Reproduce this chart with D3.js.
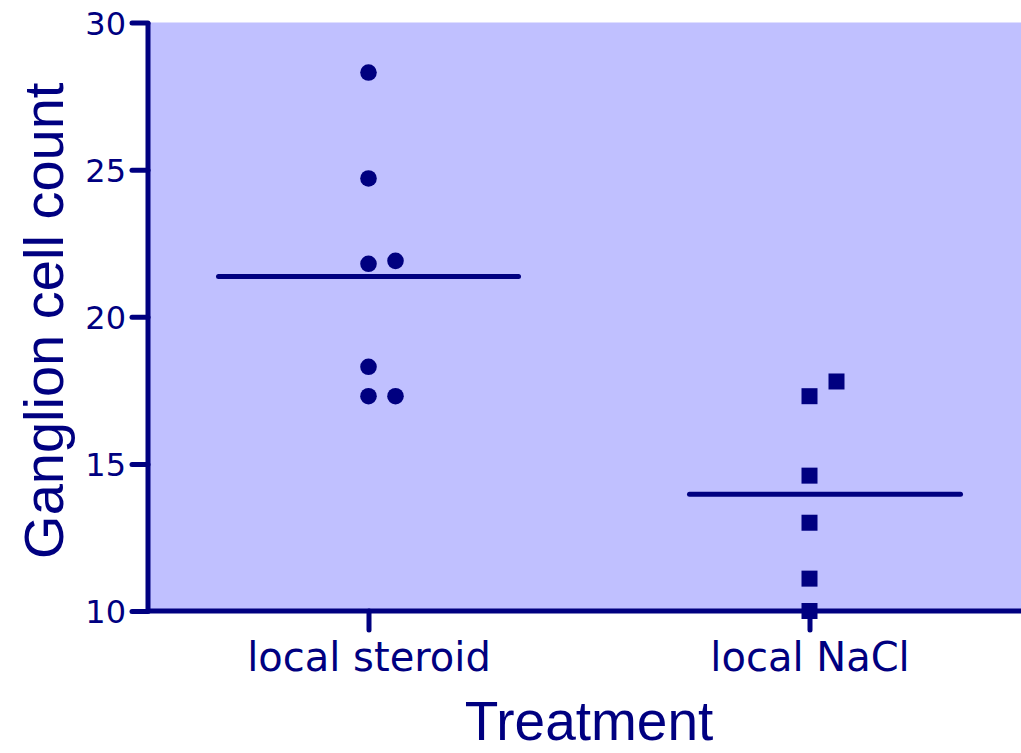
<!DOCTYPE html>
<html>
<head>
<meta charset="utf-8">
<script src="https://cdn.jsdelivr.net/npm/d3@7"></script>
<style>
  body { margin: 0; background: #fff; }
  svg { display: block; }
</style>
</head>
<body>
<div id="chart"></div>
<script>
// data
const categories = ['local steroid', 'local NaCl'];
const steroidValues = [28.3, 24.7, 21.8, 21.9, 18.3, 17.3, 17.3];
const naclValues = [17.8, 17.3, 14.6, 13.0, 11.1, 10.0];
const yTicks = [10, 15, 20, 25, 30];

const series = [
  { name: categories[0], values: steroidValues, shape: 'circle', meanLeft: 150, meanRight: 150 },
  { name: categories[1], values: naclValues, shape: 'square', meanLeft: 120, meanRight: 151 }
];

const width = 1021;
const height = 753;
const margin = { top: 22.5, right: -9, bottom: 142, left: 148 };
const navy = '#000080';

const svg = d3.select('#chart')
  .append('svg')
  .attr('width', width)
  .attr('height', height);

const x = d3.scalePoint()
  .domain(categories)
  .range([margin.left, width - margin.right])
  .padding(0.5);

const y = d3.scaleLinear()
  .domain([10, 30])
  .range([height - margin.bottom, margin.top]);

// plot background
svg.append('rect')
  .attr('x', margin.left)
  .attr('y', y(30))
  .attr('width', width - margin.left)
  .attr('height', y(10) - y(30))
  .attr('fill', '#c0c0ff');

// y axis
const yAxis = svg.append('g')
  .attr('transform', 'translate(' + margin.left + ',0)')
  .call(d3.axisLeft(y).tickValues(yTicks).tickSize(16).tickPadding(6));

// x axis
const xAxis = svg.append('g')
  .attr('transform', 'translate(0,' + y(10) + ')')
  .call(d3.axisBottom(x).tickSize(19).tickPadding(12));

[yAxis, xAxis].forEach(a => {
  a.select('.domain').remove();
  a.selectAll('line')
    .attr('stroke', navy)
    .attr('stroke-width', 5)
    .attr('stroke-linecap', 'round');
  a.selectAll('text')
    .attr('fill', navy)
    .style('font-family', '"DejaVu Sans", Verdana, sans-serif');
});
yAxis.selectAll('text').style('font-size', '32px').attr('dy', '0.36em');
xAxis.selectAll('text').style('font-size', '40px').attr('dy', '0.72em');

// axis lines
svg.append('line')
  .attr('x1', margin.left).attr('x2', margin.left)
  .attr('y1', y(30)).attr('y2', y(10))
  .attr('stroke', navy).attr('stroke-width', 5);
svg.append('line')
  .attr('x1', margin.left).attr('x2', width)
  .attr('y1', y(10)).attr('y2', y(10))
  .attr('stroke', navy).attr('stroke-width', 5);

// points, shifted sideways when they would overlap
const markerSize = 17;
const colGap = 27;

series.forEach(s => {
  const cx = x(s.name);
  const placed = [];
  const pts = s.values.slice().sort((a, b) => a - b).map(v => {
    const py = y(v);
    let col = 0;
    while (placed.some(p => p.col === col && Math.abs(p.py - py) < markerSize)) col++;
    const p = { v, py, col };
    placed.push(p);
    return p;
  });

  const g = svg.append('g');
  if (s.shape === 'circle') {
    g.selectAll('circle')
      .data(pts)
      .enter().append('circle')
      .attr('cx', d => cx + d.col * colGap)
      .attr('cy', d => d.py)
      .attr('r', 8.3)
      .attr('fill', navy);
  } else {
    g.selectAll('rect')
      .data(pts)
      .enter().append('rect')
      .attr('x', d => cx + d.col * colGap - 8)
      .attr('y', d => d.py - 8)
      .attr('width', 16)
      .attr('height', 16)
      .attr('fill', navy);
  }

  const mean = d3.mean(s.values);
  g.append('line')
    .attr('x1', cx - s.meanLeft).attr('x2', cx + s.meanRight)
    .attr('y1', y(mean)).attr('y2', y(mean))
    .attr('stroke', navy)
    .attr('stroke-width', 5)
    .attr('stroke-linecap', 'round');
});

// axis titles
svg.append('text')
  .attr('x', (margin.left + width - margin.right) / 2)
  .attr('y', 740)
  .attr('text-anchor', 'middle')
  .attr('fill', navy)
  .style('font-family', '"Liberation Sans", Arial, sans-serif')
  .style('font-size', '55px')
  .text('Treatment');

svg.append('text')
  .attr('transform', 'translate(63,' + ((y(10) + y(30)) / 2 + 4) + ') rotate(-90)')
  .attr('text-anchor', 'middle')
  .attr('fill', navy)
  .style('font-family', '"Liberation Sans", Arial, sans-serif')
  .style('font-size', '56px')
  .text('Ganglion cell count');
</script>
</body>
</html>
